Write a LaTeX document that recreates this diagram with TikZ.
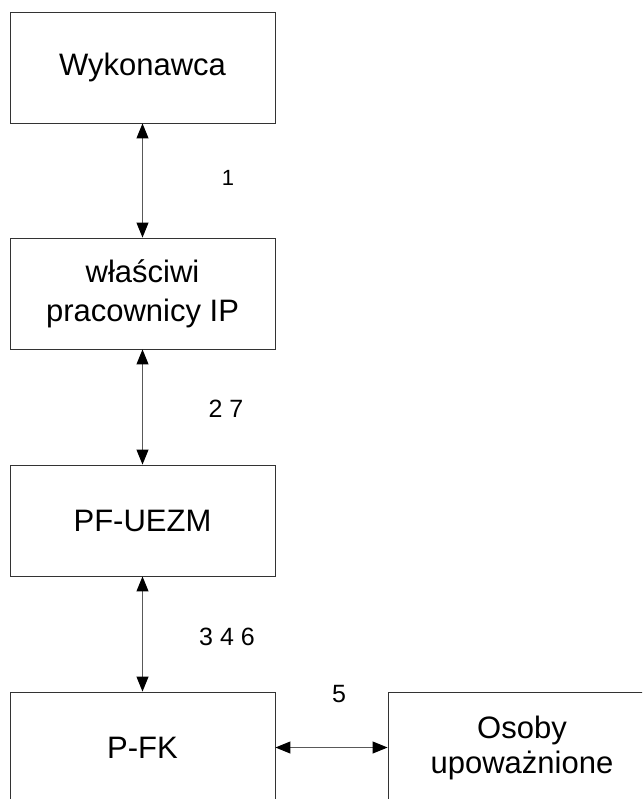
\documentclass[tikz,border=0pt]{standalone}
\usepackage{fontspec}
\setmainfont{Liberation Sans}
\usetikzlibrary{arrows.meta}
\begin{document}
\begin{tikzpicture}[x=1pt,y=-1pt,
  box/.style={draw=black!80,line width=0.9pt,minimum width=265pt,minimum height=111pt,inner sep=0pt,align=center,font=\fontsize{31}{39}\selectfont},
  conn/.style={draw=black!65,line width=1pt,{Triangle[length=15pt,width=12pt,color=black]}-{Triangle[length=15pt,width=12pt,color=black]}},
  lbl/.style={inner sep=0pt,font=\fontsize{25}{30}\selectfont}]
\useasboundingbox (0,0) rectangle (642,799);
\clip (0,0) rectangle (642,799);
\node[box] (A) at (142.5,67.5) {Wykonawca};
\node[box] (B) at (142.5,293.5) {właściwi\\pracownicy IP};
\node[box] (C) at (142.5,520.5) {PF-UEZM};
\node[box] (D) at (142.5,747.5) {P-FK};
\node[box,minimum width=268pt,font=\fontsize{31}{35}\selectfont] (E) at (522,747.5) {Osoby\\upoważnione};
\draw[conn] (A.south) -- (B.north);
\draw[conn] (B.south) -- (C.north);
\draw[conn] (C.south) -- (D.north);
\draw[conn] (D.east) -- (E.west);
\node[lbl,font=\fontsize{22}{26}\selectfont] (l1) at (228,178) {1};
\node[lbl] (l2) at (226,409) {2 7};
\node[lbl] (l3) at (227,637) {3 4 6};
\node[lbl] (l5) at (339,694) {5};
\end{tikzpicture}
\end{document}
